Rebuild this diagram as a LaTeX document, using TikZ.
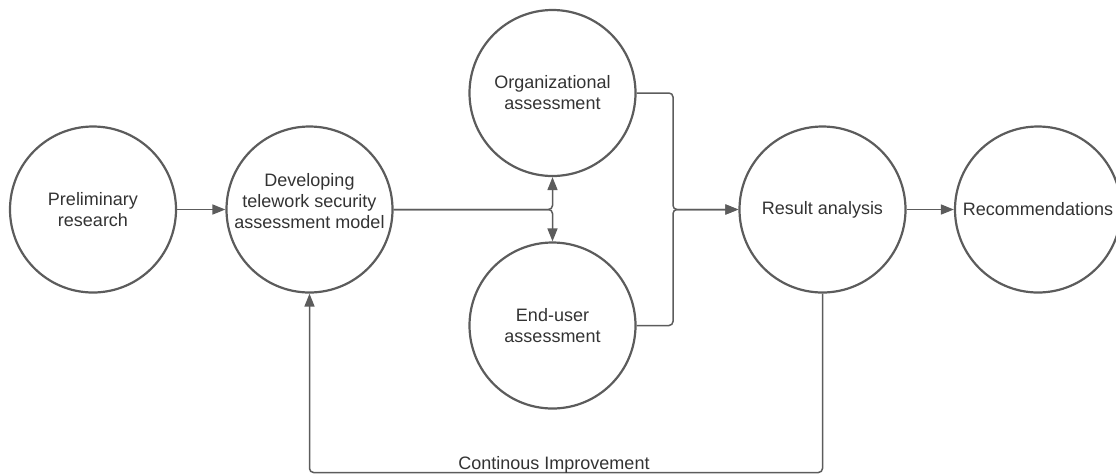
\documentclass[tikz,border=0pt]{standalone}
\usepackage{fontspec}
\setmainfont{Liberation Sans}
\usetikzlibrary{arrows.meta}
\definecolor{edgegray}{HTML}{5C5C5C}
\definecolor{inkgray}{HTML}{333333}
\begin{document}
\begin{tikzpicture}[x=1pt,y=-1pt,
  stage/.style={circle,draw=edgegray,line width=2.2pt,minimum size=166pt,inner sep=0pt,
    align=center,text=inkgray,font=\fontsize{18}{21}\selectfont},
  flow/.style={draw=edgegray,line width=1.5pt,rounded corners=4pt,
    -{Triangle[length=13pt,width=10pt]}},
  plain/.style={draw=edgegray,line width=1.5pt,rounded corners=4pt},
  caption/.style={text=inkgray,font=\fontsize{18}{21}\selectfont,inner sep=0pt}]
  \useasboundingbox (0,0) rectangle (1116,475);

  % stages of the process
  \node[stage] (pre) at (93,209.5) {Preliminary\\research};
  \node[stage] (dev) at (309.5,209.5) {};
  \node[caption,align=center] (devtext) at (309.5,201) {Developing\\telework security\\assessment model};
  \node[stage] (org) at (552.5,93) {Organizational\\assessment};
  \node[stage] (eu) at (552.5,325.5) {End-user\\assessment};
  \node[stage] (res) at (822.5,209.5) {Result analysis};
  \node[stage] (rec) at (1038,209.5) {Recommendations};

  % junction points of the connectors
  \coordinate (merge) at (673,209.5);
  \coordinate (loop) at (566,472.5);

  % forward flow
  \draw[flow] (pre) -- (dev);
  \draw[flow] (dev.east) -| (org.south);
  \draw[flow] (dev.east) -| (eu.north);
  \draw[flow] (org.east) -| (merge) -- (res.west);
  \draw[flow] (eu.east) -| (merge) -- (res.west);
  \draw[flow] (res) -- (rec);

  % feedback loop
  \draw[flow] (res.south) |- (loop) -| (dev.south);
  \node[caption,anchor=base] (ci) at (554,469) {Continous Improvement};
\end{tikzpicture}
\end{document}
